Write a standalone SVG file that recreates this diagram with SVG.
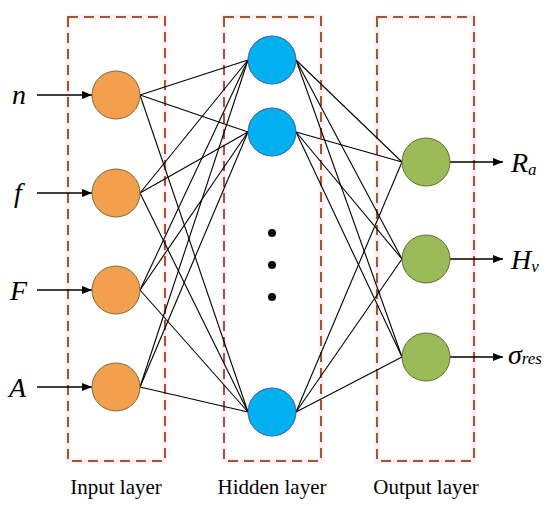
<svg xmlns="http://www.w3.org/2000/svg" width="550" height="506" viewBox="0 0 550 506">
<defs>
<marker id="ah" markerWidth="10" markerHeight="8" refX="10" refY="4" orient="auto" markerUnits="userSpaceOnUse">
<path d="M0,0 L10,4 L0,8 Z" fill="#000"/>
</marker>
<style>
.box{fill:none;stroke:#9C5A2E;stroke-width:2;stroke-dasharray:10 6}
.halo{fill:none;stroke:#FDEDF5;stroke-width:5}
.in{fill:#F2A04E;stroke:#7C6A3A;stroke-width:1}
.hid{fill:#00B0F0;stroke:#3D5B9A;stroke-width:1}
.out{fill:#9BBB59;stroke:#5E6E3A;stroke-width:1}
.ln{stroke:#000;stroke-width:1.1}
.ar{stroke:#000;stroke-width:1.5;marker-end:url(#ah)}
.var{font-style:italic;font-size:28px;fill:#000}
.sub{font-style:italic;font-size:17px;fill:#000}
.cap{font-size:21px;fill:#000;text-anchor:middle}
</style>
</defs>
<g id="boxes">
<rect class="halo" x="68" y="17" width="97" height="444"/>
<rect class="halo" x="224" y="17" width="97" height="444"/>
<rect class="halo" x="377" y="17" width="97" height="444"/>
<rect class="box" x="68" y="17" width="97" height="444"/>
<rect class="box" x="224" y="17" width="97" height="444"/>
<rect class="box" x="377" y="17" width="97" height="444"/>
</g>
<g id="connectors">
<g class="ln">
<line x1="140" y1="95" x2="248" y2="60"/><line x1="140" y1="95" x2="248" y2="132"/><line x1="140" y1="95" x2="248" y2="412"/>
<line x1="140" y1="193" x2="248" y2="60"/><line x1="140" y1="193" x2="248" y2="132"/><line x1="140" y1="193" x2="248" y2="412"/>
<line x1="140" y1="290" x2="248" y2="60"/><line x1="140" y1="290" x2="248" y2="132"/><line x1="140" y1="290" x2="248" y2="412"/>
<line x1="140" y1="387" x2="248" y2="60"/><line x1="140" y1="387" x2="248" y2="132"/><line x1="140" y1="387" x2="248" y2="412"/>
<line x1="296" y1="60" x2="402" y2="162"/><line x1="296" y1="60" x2="402" y2="259"/><line x1="296" y1="60" x2="402" y2="357"/>
<line x1="296" y1="132" x2="402" y2="162"/><line x1="296" y1="132" x2="402" y2="259"/><line x1="296" y1="132" x2="402" y2="357"/>
<line x1="296" y1="412" x2="402" y2="162"/><line x1="296" y1="412" x2="402" y2="259"/><line x1="296" y1="412" x2="402" y2="357"/>
</g>
<line class="ar" x1="37" y1="95" x2="92" y2="95"/>
<line class="ar" x1="37" y1="193" x2="92" y2="193"/>
<line class="ar" x1="37" y1="290" x2="92" y2="290"/>
<line class="ar" x1="37" y1="387" x2="92" y2="387"/>
<line class="ar" x1="450" y1="162" x2="503" y2="162"/>
<line class="ar" x1="450" y1="259" x2="503" y2="259"/>
<line class="ar" x1="450" y1="357" x2="503" y2="357"/>
</g>
<g font-family="'Liberation Serif', 'Times New Roman', serif">
<g id="input-nodes">
<g id="in-n"><circle class="in" cx="116" cy="95" r="24"/><text class="var" x="12" y="104">n</text></g>
<g id="in-f"><circle class="in" cx="116" cy="193" r="24"/><text class="var" x="14" y="202">f</text></g>
<g id="in-F"><circle class="in" cx="116" cy="290" r="24"/><text class="var" x="10" y="300">F</text></g>
<g id="in-A"><circle class="in" cx="116" cy="387" r="24"/><text class="var" x="9" y="397">A</text></g>
</g>
<g id="hidden-nodes">
<g id="h1"><circle class="hid" cx="272" cy="60" r="24"/></g>
<g id="h2"><circle class="hid" cx="272" cy="132" r="24"/></g>
<g id="dots"><circle cx="272" cy="233" r="4" fill="#000"/><circle cx="272" cy="265" r="4" fill="#000"/><circle cx="272" cy="297" r="4" fill="#000"/></g>
<g id="h3"><circle class="hid" cx="272" cy="412" r="24"/></g>
</g>
<g id="output-nodes">
<g id="out-Ra"><circle class="out" cx="426" cy="162" r="24"/><text class="var" x="511" y="172">R<tspan class="sub" dy="3">a</tspan></text></g>
<g id="out-Hv"><circle class="out" cx="426" cy="259" r="24"/><text class="var" x="511" y="269">H<tspan class="sub" dy="3">v</tspan></text></g>
<g id="out-s"><circle class="out" cx="426" cy="357" r="24"/><text class="var" x="508" y="364">σ<tspan class="sub">res</tspan></text></g>
</g>
<g id="captions">
<text class="cap" x="116" y="494">Input layer</text>
<text class="cap" x="272" y="494">Hidden layer</text>
<text class="cap" x="426" y="494">Output layer</text>
</g>
</g>
</svg>
